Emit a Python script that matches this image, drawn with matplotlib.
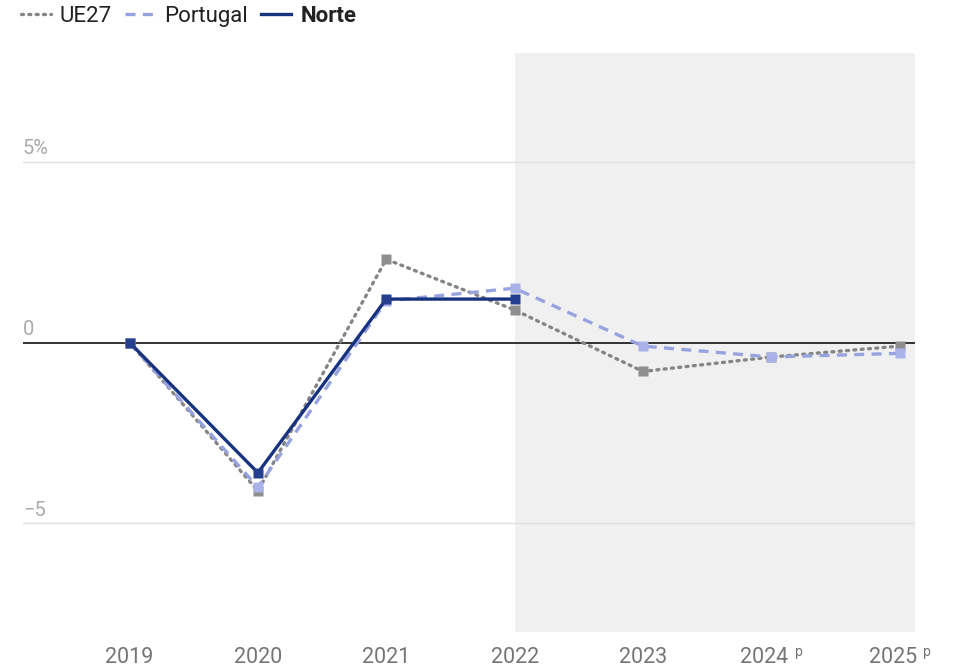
import matplotlib.pyplot as plt
from matplotlib.lines import Line2D
from matplotlib.transforms import blended_transform_factory

plt.rcParams['font.family'] = ['Roboto', 'DejaVu Sans']

years = ["2019", "2020", "2021", "2022", "2023", "2024", "2025"]
projected = [False, False, False, False, False, True, True]
ue27 = [0.0, -4.1, 2.3, 0.9, -0.8, -0.4, -0.1]
portugal = [0.0, -4.0, 1.15, 1.5, -0.1, -0.4, -0.3]
norte = [0.0, -3.6, 1.2, 1.2]

c_ue = "#858585"
c_pt = "#97a3e0"
c_no = "#17337f"
c_lab = "#757575"

fig = plt.figure(figsize=(9.54, 6.68), dpi=100)
ax = fig.add_axes([23/954, 36/668, 892/954, 579/668])

x = list(range(len(years)))
ax.axvspan(3, 6.12, color="#f0f0f0", zorder=0, lw=0)

for v in (5, -5):
    ax.axhline(v, color="#e0e0e0", lw=1, zorder=1)
ax.axhline(0, color="#111111", lw=1.2, zorder=2)

ax.plot(x, ue27, color=c_ue, lw=2.4, ls=(0, (0.6, 1.6)), dash_capstyle="round",
        marker="s", ms=6.5, mfc="#8e8e8e", mec="none", zorder=3)
ax.plot(x, portugal, color=c_pt, lw=2.4, ls=(0, (3, 2.2)),
        marker="s", ms=6.5, mfc="#a9b3ea", mec="none", zorder=4)
ax.plot(x[:len(norte)], norte, color=c_no, lw=2.4,
        marker="s", ms=6.5, mfc="#243f8f", mec="none", zorder=5)

ax.set_xlim(-0.83, 6.12)
ax.set_ylim(-8, 8)
for s in ax.spines.values():
    s.set_visible(False)
ax.set_yticks([])
ax.set_xticks(x)
ax.set_xticklabels([y if not p else "" for y, p in zip(years, projected)],
                   fontsize=15.5, color=c_lab)
ax.tick_params(axis="x", length=0, pad=11)

# projected years: label + small "p", centred together on the tick
for xi, y, p in zip(x, years, projected):
    if p:
        ax.annotate(y, xy=(xi, 0), xycoords=("data", "axes fraction"),
                    xytext=(-5, -18.5), textcoords="offset points",
                    fontsize=15.5, color=c_lab, ha="center", va="center")
        ax.annotate("p", xy=(xi, 0), xycoords=("data", "axes fraction"),
                    xytext=(17, -14.5), textcoords="offset points",
                    fontsize=10, color=c_lab, ha="left", va="center")

trans = blended_transform_factory(ax.transAxes, ax.transData)
ax.text(0, 5.1, "5%", transform=trans, fontsize=14.5, color="#ababab", va="bottom")
ax.text(0, 0.1, "0", transform=trans, fontsize=14.5, color="#ababab", va="bottom")
ax.text(0, -4.9, "\u22125", transform=trans, fontsize=14.5, color="#ababab", va="bottom")

handles = [
    Line2D([], [], color=c_ue, lw=2.4, ls=(0, (0.6, 1.6)), dash_capstyle="round"),
    Line2D([], [], color=c_pt, lw=2.4, ls=(0, (3, 2.2))),
    Line2D([], [], color=c_no, lw=2.4),
]
leg = fig.legend(handles, ["UE27", "Portugal", "Norte"], loc="center left",
                 bbox_to_anchor=(21/954, 1 - 16/668), ncol=3, frameon=False,
                 fontsize=16, handlelength=1.35, handletextpad=0.4,
                 columnspacing=0.6, borderaxespad=0, borderpad=0)
for t in leg.get_texts():
    t.set_color("#222222")
leg.get_texts()[2].set_fontweight("bold")

fig.savefig("out.png", dpi=100)
